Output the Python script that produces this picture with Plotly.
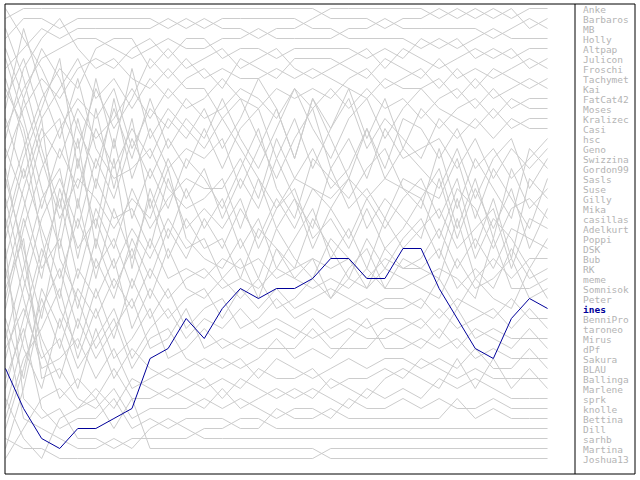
import plotly.graph_objects as go

# Tippspiel standings (0 = first place) over 31 matchdays
matchdays = list(range(1, 32))

names = ["Anke", "Barbaros", "MB", "Holly", "Altpap", "Julicon", "Froschi", "Tachymet",
         "Kai", "FatCat42", "Moses", "Kralizec", "Casi", "hsc", "Geno", "Swizzina",
         "Gordon99", "Sasls", "Suse", "Gilly", "Mika", "casillas", "Adelkurt", "Poppi",
         "DSK", "Bub", "RK", "meme", "Somnisok", "Peter", "ines", "BenniPro", "taroneo",
         "Mirus", "dPf", "Sakura", "BLAU", "Ballinga", "Marlene", "sprk", "knolle",
         "Bettina", "Dill", "sarhb", "Martina", "Joshua13"]

anke     = [6,4,2,3,2,2,2,2,2,1,2,1,2,2,3,2,2,1,0,0,0,0,0,0,1,0,1,0,1,0,0]
barbaros = [1,0,0,0,0,0,0,0,0,0,0,0,0,0,0,0,0,0,1,1,1,2,1,1,0,1,0,1,0,2,1]
mb       = [12,8,5,4,3,3,4,5,4,3,4,4,3,3,2,3,3,3,3,2,2,1,2,2,2,2,2,3,2,1,2]
holly    = [3,1,1,2,1,1,1,1,1,2,1,2,1,1,1,1,1,2,2,3,3,3,3,4,3,4,3,2,3,3,3]
altpap   = [15,10,7,9,6,5,6,4,3,5,3,3,5,4,4,5,4,4,4,4,5,4,5,3,4,3,5,4,5,4,4]
julicon  = [20,14,9,6,8,4,3,3,6,4,6,5,4,6,5,4,6,7,6,5,4,6,4,5,6,5,4,5,4,6,5]
froschi  = [9,5,11,8,5,9,7,10,7,9,7,6,8,5,6,7,5,5,5,6,7,5,6,7,5,7,6,7,6,5,6]
tachymet = [25,18,12,15,10,13,11,8,11,8,10,9,7,9,10,8,9,8,9,7,6,8,7,6,8,6,8,6,7,8,7]
kai      = [0,3,6,10,14,8,12,9,5,7,5,7,6,7,7,6,7,6,7,8,9,7,8,8,7,9,7,9,8,7,8]
fatcat42 = [30,22,16,12,9,11,8,14,10,12,9,11,10,8,9,11,8,10,8,10,8,10,9,11,9,8,10,8,10,9,9]
moses    = [8,12,20,14,18,12,16,12,15,11,13,10,14,11,7,10,15,9,12,8,13,9,14,10,12,10,9,11,9,10,10]
kralizec = [18,9,4,7,12,16,10,15,9,14,11,13,9,13,16,12,8,12,15,11,9,13,10,8,10,11,12,10,12,11,11]
casi     = [35,28,21,17,22,15,19,13,17,13,16,12,16,12,10,15,11,16,12,9,14,11,13,15,11,13,11,13,11,12,12]
hsc      = [2,7,14,20,11,18,9,17,12,16,14,15,13,18,14,10,15,9,13,17,12,16,11,12,15,12,16,14,17,15,13]
geno     = [22,15,10,5,16,7,14,6,13,10,12,14,11,9,13,17,13,10,16,13,17,12,15,14,13,16,13,17,14,16,14]
swizzina = [40,33,25,19,27,20,24,18,22,19,17,18,18,15,19,13,17,14,18,16,12,17,14,16,18,14,19,15,13,18,15]
gordon99 = [5,11,18,24,15,22,13,21,16,20,15,17,20,16,12,18,21,15,17,19,16,14,18,20,14,20,15,18,21,14,16]
sasls    = [27,20,13,11,20,10,18,11,20,15,19,16,21,17,20,15,19,22,16,20,18,21,17,18,19,15,21,16,19,22,17]
suse     = [13,6,3,1,4,6,5,7,8,6,8,8,11,14,17,20,17,18,19,17,19,17,18,19,16,22,17,23,16,20,18]
gilly    = [44,38,30,26,32,25,29,23,27,22,25,21,24,20,23,19,22,18,20,23,19,22,19,17,21,17,24,19,25,17,19]
mika     = [10,2,8,13,7,14,17,16,14,18,20,19,17,22,17,22,19,24,20,17,22,19,21,23,17,23,18,22,18,24,20]
casillas = [33,26,19,16,25,17,21,20,24,17,22,20,22,19,24,20,18,23,21,24,20,24,22,19,23,18,20,24,20,19,21]
adelkurt = [17,24,31,22,13,24,15,26,18,23,18,22,19,24,21,26,23,20,25,22,26,21,24,22,20,24,22,20,26,21,22]
poppi    = [38,31,24,29,19,27,20,25,19,25,21,24,23,27,22,24,26,21,24,27,23,26,23,21,25,19,25,21,23,26,23]
dsk      = [4,9,15,21,17,19,22,19,21,16,23,25,26,23,27,22,25,27,23,25,28,24,26,25,22,26,23,26,22,23,24]
bub      = [29,21,27,18,24,21,26,22,25,21,24,23,27,25,29,24,27,25,29,26,24,28,25,26,27,21,27,25,27,25,25]
rk       = [23,16,22,27,21,26,23,28,23,27,26,27,25,26,25,27,26,25,26,25,27,25,26,26,24,28,26,28,24,27,26]
meme     = [42,36,29,34,28,31,27,30,26,29,27,26,28,27,28,26,27,28,27,28,26,28,28,27,26,27,29,23,28,28,27]
somnisok = [14,19,26,23,30,23,28,24,29,24,28,29,27,29,27,30,29,27,29,27,28,26,27,28,29,25,28,27,25,29,28]
peter    = [31,37,28,32,26,29,25,32,28,31,29,28,31,28,30,28,30,29,28,29,30,29,29,30,27,30,27,29,30,26,29]
ines     = [36,40,43,44,42,42,41,40,35,34,31,33,30,28,29,28,28,27,25,25,27,27,24,24,28,31,34,35,31,29,30]
bennipro = [7,13,23,30,34,28,33,27,31,28,32,30,29,32,31,29,31,30,31,30,29,30,30,29,31,29,30,31,29,31,31]
taroneo  = [26,34,38,31,36,33,30,35,32,30,33,31,32,30,32,31,32,33,32,31,32,31,31,32,30,32,31,30,32,30,32]
mirus    = [19,27,33,37,31,35,32,29,34,33,30,34,33,34,33,32,33,31,33,32,33,33,32,31,33,30,33,32,33,33,33]
dpf      = [41,35,32,28,35,30,35,33,30,35,34,32,34,33,34,34,34,32,34,34,34,32,33,34,32,34,32,33,34,32,34]
sakura   = [11,17,11,25,29,34,31,36,33,32,35,36,35,36,35,33,35,34,35,33,31,34,34,33,34,33,35,34,35,35,35]
blau     = [34,30,35,33,38,32,37,34,36,37,36,35,36,35,37,35,36,37,36,35,36,35,35,36,35,36,34,36,36,34,36]
ballinga = [21,29,36,35,33,37,34,38,37,36,37,38,37,38,36,37,37,36,38,37,37,36,37,35,36,37,36,37,37,37,37]
marlene  = [45,42,39,38,40,38,40,37,38,39,38,37,39,37,38,39,38,39,37,38,39,37,36,37,38,35,38,35,38,36,38]
sprk     = [16,25,34,39,37,39,36,39,39,38,39,40,38,40,39,38,39,38,39,40,38,39,38,39,37,38,37,38,39,39,39]
knolle   = [28,23,37,36,39,40,38,41,40,40,40,39,40,39,40,41,40,40,41,39,40,40,39,40,39,40,40,39,40,40,40]
bettina  = [37,32,40,42,41,41,39,42,41,42,41,41,41,42,42,40,41,41,40,41,41,41,41,41,41,39,41,40,41,41,41]
dill     = [24,39,41,40,43,43,44,43,43,43,43,42,42,41,41,42,42,42,42,42,42,42,42,42,42,42,42,42,42,42,42]
sarhb    = [32,41,42,43,44,44,43,44,42,41,42,43,43,43,43,43,43,43,43,43,43,43,43,43,43,43,43,43,43,43,43]
martina  = [43,44,44,45,45,45,45,45,45,45,45,45,45,45,45,45,45,45,44,44,44,44,44,44,44,44,44,44,44,44,44]
joshua13 = [39,43,45,41,40,39,42,39,44,44,44,44,44,44,44,44,44,44,45,45,45,45,45,45,45,45,45,45,45,45,45]

series = [anke, barbaros, mb, holly, altpap, julicon, froschi, tachymet, kai, fatcat42,
          moses, kralizec, casi, hsc, geno, swizzina, gordon99, sasls, suse, gilly, mika,
          casillas, adelkurt, poppi, dsk, bub, rk, meme, somnisok, peter, ines, bennipro,
          taroneo, mirus, dpf, sakura, blau, ballinga, marlene, sprk, knolle, bettina,
          dill, sarhb, martina, joshua13]

highlight = "ines"
GRAY = "#cccccc"
BLUE = "#00009a"

fig = go.Figure()
for name, ranks in zip(names, series):
    if name == highlight:
        continue
    fig.add_trace(go.Scatter(x=matchdays, y=ranks, mode="lines",
                             line=dict(color=GRAY, width=1), hoverinfo="skip",
                             showlegend=False))
fig.add_trace(go.Scatter(x=matchdays, y=ines, mode="lines",
                         line=dict(color=BLUE, width=1), hoverinfo="skip",
                         showlegend=False))

W, H = 640, 480
ml, mr, mt, mb_ = 5, 65, 4, 6
pw = W - ml - mr

annotations = []
for i, name in enumerate(names):
    is_h = name == highlight
    annotations.append(dict(
        xref="paper", yref="y", x=(581 - ml) / pw, y=i + 0.1,
        xanchor="left", yanchor="middle", showarrow=False,
        text=f"<b>{name}</b>" if is_h else name,
        font=dict(family="DejaVu Sans Mono", size=9.5,
                  color=BLUE if is_h else "#b4b4b4")))

shapes = [
    dict(type="rect", xref="paper", yref="paper", x0=0, x1=(635 - ml) / pw, y0=0, y1=1,
         line=dict(color="black", width=1)),
    dict(type="line", xref="paper", yref="paper", x0=1, x1=1, y0=0, y1=1,
         line=dict(color="black", width=1)),
]

fig.update_layout(
    width=W, height=H,
    margin=dict(l=ml, r=mr, t=mt, b=mb_, pad=0),
    paper_bgcolor="white", plot_bgcolor="white",
    xaxis=dict(visible=False, range=[0.972, 32.52], fixedrange=True),
    yaxis=dict(visible=False, range=[46.55, -0.45], fixedrange=True),
    annotations=annotations, shapes=shapes,
)

fig.write_html("out.html", config={"displayModeBar": False},
               post_script="document.body.style.margin='0';document.body.style.overflow='hidden';")
